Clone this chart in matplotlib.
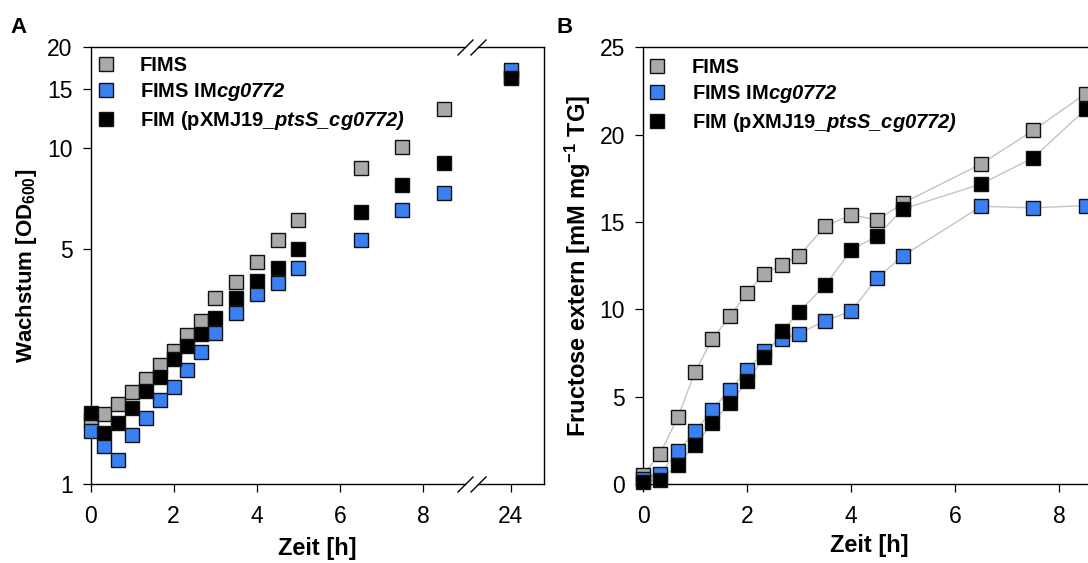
import numpy as np
import matplotlib
matplotlib.use("Agg")
import matplotlib.pyplot as plt
from matplotlib.lines import Line2D
from matplotlib.ticker import NullLocator

plt.rcParams['font.family'] = ['Liberation Sans', 'DejaVu Sans']
plt.rcParams['mathtext.fontset'] = 'custom'
plt.rcParams['mathtext.rm'] = 'Liberation Sans:bold'
plt.rcParams['mathtext.it'] = 'Liberation Sans:bold:italic'
plt.rcParams['mathtext.sf'] = 'Liberation Sans:bold:italic'
plt.rcParams['mathtext.bf'] = 'Liberation Sans:bold'
plt.rcParams['axes.linewidth'] = 1.0

# --- data ---
# A: growth, OD600 (log axis), time in h
t_od = np.array([0, 0.33, 0.67, 1, 1.33, 1.67, 2, 2.33, 2.67, 3, 3.5, 4, 4.5, 5, 6.5, 7.5, 8.5, 24])
fims_od = [1.55, 1.62, 1.73, 1.88, 2.06, 2.26, 2.49, 2.77, 3.05, 3.57, 3.99, 4.57, 5.35, 6.11, 8.74, 10.1, 13.1, 16.3]
im_od = [1.44, 1.30, 1.18, 1.40, 1.57, 1.78, 1.94, 2.18, 2.47, 2.82, 3.23, 3.67, 3.98, 4.40, 5.35, 6.56, 7.38, 17.1]
fim_od = [1.63, 1.42, 1.52, 1.68, 1.89, 2.08, 2.36, 2.57, 2.80, 3.12, 3.58, 4.02, 4.39, 5.00, 6.45, 7.76, 9.02, 16.2]

# B: extracellular fructose [mM mg-1 TG]
t_fru = np.array([0, 0.33, 0.67, 1, 1.33, 1.67, 2, 2.33, 2.67, 3, 3.5, 4, 4.5, 5, 6.5, 7.5, 8.5])
fims_fru = [0.53, 1.74, 3.84, 6.41, 8.30, 9.60, 10.94, 12.04, 12.56, 13.08, 14.75, 15.42, 15.10, 16.09, 18.33, 20.25, 22.34]
im_fru = [0.30, 0.60, 1.87, 3.01, 4.26, 5.40, 6.51, 7.60, 8.30, 8.61, 9.35, 9.89, 11.80, 13.08, 15.90, 15.81, 15.94]
fim_fru = [0.10, 0.25, 1.11, 2.25, 3.49, 4.64, 5.88, 7.27, 8.74, 9.87, 11.38, 13.38, 14.22, 15.75, 17.18, 18.69, 21.44]

labels = ['FIMS', r'FIMS IM$\mathsf{cg0772}$', r'FIM (pXMJ19$\mathsf{\_ptsS\_cg0772)}$']
colors = ['#a9a9a9', '#3b80f2', '#000000']

od_ticks = [1, 5, 10, 15, 20]
x_ticks = [0, 2, 4, 6, 8]

fig = plt.figure(figsize=(10.88, 5.63), dpi=100)
ax1 = fig.add_axes([0.0832, 0.1403, 0.3442, 0.7757])
ax2 = fig.add_axes([0.4389, 0.1403, 0.0607, 0.7757])
axb = fig.add_axes([0.5910, 0.1403, 0.4163, 0.7757])

mk = dict(marker='s', ms=9.4, mec='#111111', mew=1.0, ls='none', clip_on=False, zorder=5)

left = t_od < 10
right = t_od > 20
for vals, c in zip([fims_od, im_od, fim_od], colors):
    vals = np.array(vals)
    ax1.plot(t_od[left], vals[left], mfc=c, **mk)
    ax2.plot(t_od[right], vals[right], mfc=c, **mk)

for ax in (ax1, ax2):
    ax.set_yscale('log')
    ax.set_ylim(1, 20)
    ax.yaxis.set_minor_locator(NullLocator())
    ax.tick_params(direction='out', length=5.8, width=0.9, labelsize=16.5)
    ax.tick_params(axis='x', pad=9.5)
    ax.tick_params(axis='y', pad=7)

ax1.set_xlim(0, 9.01)
ax1.set_xticks(x_ticks)
ax1.set_yticks(od_ticks, [str(v) for v in od_ticks])
ax1.spines['right'].set_visible(False)

ax2.set_xlim(23.2, 24.79)
ax2.set_xticks([24])
ax2.set_yticks([])
ax2.spines['left'].set_visible(False)

# break marks
brk = dict(marker=[(-1, -1), (1, 1)], markersize=11.5, ls='none', color='k',
           mec='k', mew=1.0, clip_on=False)
ax1.plot([1, 1], [0, 1], transform=ax1.transAxes, **brk)
ax2.plot([0, 0], [0, 1], transform=ax2.transAxes, **brk)

ax1.set_ylabel('Wachstum [OD$_{600}$]', fontsize=16, fontweight='bold', labelpad=6)
ax1.set_xlabel('Zeit [h]', fontsize=17, fontweight='bold')
ax1.xaxis.set_label_coords(0.605, -0.121)

# B
for vals in (fims_fru, im_fru, fim_fru):
    axb.plot(t_fru, vals, color='#c4c4c4', lw=1.0, zorder=2)
for vals, c in zip([fims_fru, im_fru, fim_fru], colors):
    axb.plot(t_fru, vals, mfc=c, **mk)

axb.set_xlim(0, 8.7)
axb.set_ylim(0, 25)
axb.set_xticks(x_ticks)
axb.set_yticks([0, 5, 10, 15, 20, 25])
axb.tick_params(direction='out', length=5.8, width=0.9, labelsize=16.5)
axb.tick_params(axis='x', pad=9.5)
axb.tick_params(axis='y', pad=7)
axb.set_ylabel('Fructose extern [mM mg$^{-1}$ TG]', fontsize=17, fontweight='bold', labelpad=5)
axb.set_xlabel('Zeit [h]', fontsize=17, fontweight='bold', labelpad=4)

# legends
handles = [Line2D([], [], marker='s', ms=9.4, mfc=c, mec='#111111', mew=1.0, ls='none') for c in colors]
leg_kw = dict(loc='upper left', frameon=False, borderpad=0, borderaxespad=0,
              handlelength=1.0, handletextpad=1.2, labelspacing=0.3,
              prop=dict(family='Liberation Sans', weight='bold', size=14.5))
ax1.legend(handles, labels, bbox_to_anchor=(0.0139, 0.981), **leg_kw)
axb.legend(handles, labels, bbox_to_anchor=(0.0095, 0.976), **leg_kw)

fig.text(0.0092, 0.941, 'A', fontsize=16, fontweight='bold', va='baseline')
fig.text(0.5117, 0.941, 'B', fontsize=16, fontweight='bold', va='baseline')

fig.savefig('out.png', dpi=100)
